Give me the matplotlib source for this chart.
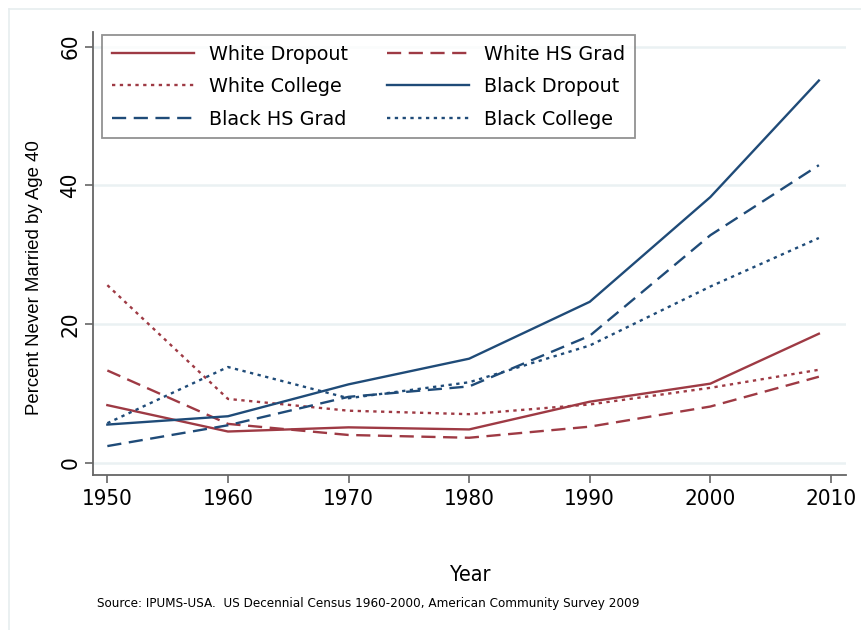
import matplotlib
matplotlib.use("Agg")
import matplotlib.pyplot as plt
from matplotlib import font_manager
from matplotlib.lines import Line2D

# Census years (2009 = American Community Survey)
years = [1950, 1960, 1970, 1980, 1990, 2000, 2009]

white_dropout = [8.3, 4.5, 5.1, 4.8, 8.8, 11.4, 18.6]
white_hs_grad = [13.3, 5.6, 4.0, 3.6, 5.2, 8.1, 12.4]
white_college = [25.6, 9.2, 7.5, 7.0, 8.4, 10.8, 13.4]
black_dropout = [5.5, 6.7, 11.3, 15.0, 23.2, 38.3, 55.1]
black_hs_grad = [2.4, 5.4, 9.5, 11.0, 18.3, 32.8, 42.9]
black_college = [5.7, 13.8, 9.3, 11.6, 16.9, 25.4, 32.4]

x_ticks = [1950, 1960, 1970, 1980, 1990, 2000, 2010]
y_ticks = [0, 20, 40, 60]

RED = "#9E3A44"
BLUE = "#1F4B78"

installed = {f.name for f in font_manager.fontManager.ttflist}
narrow = "Liberation Sans Narrow" if "Liberation Sans Narrow" in installed else "DejaVu Sans"
narrow_kw = {"family": narrow}
if narrow == "DejaVu Sans":
    narrow_kw["stretch"] = "condensed"

fig = plt.figure(figsize=(8.62, 6.30), dpi=100)
ax = fig.add_axes([93 / 862, 1 - 475 / 630, 753 / 862, 443 / 630])

dash = (0, (6, 3.2))
dot = (0, (1.4, 1.9))
series = [
    ("White Dropout", white_dropout, RED, "-"),
    ("White HS Grad", white_hs_grad, RED, dash),
    ("White College", white_college, RED, dot),
    ("Black Dropout", black_dropout, BLUE, "-"),
    ("Black HS Grad", black_hs_grad, BLUE, dash),
    ("Black College", black_college, BLUE, dot),
]
lines = {}
for name, vals, col, ls in series:
    (ln,) = ax.plot(years, vals, color=col, linestyle=ls, linewidth=1.7, zorder=3)
    lines[name] = ln

ax.set_xlim(1948.81, 2011.25)
ax.set_ylim(-1.77, 62.1)
ax.set_xticks(x_ticks)
ax.set_yticks(y_ticks)
ax.grid(axis="y", color="#EAF1F3", linewidth=1.8, zorder=0)
ax.set_axisbelow(True)

for side in ("top", "right"):
    ax.spines[side].set_visible(False)
for side in ("left", "bottom"):
    ax.spines[side].set_color("#666666")
    ax.spines[side].set_linewidth(1.3)

ax.tick_params(axis="both", colors="#666666", length=6, width=1.2, labelcolor="black")
ax.tick_params(axis="x", pad=4)
ax.tick_params(axis="y", pad=3)
for lab in ax.get_xticklabels():
    lab.set_fontsize(16)
    lab.set(**narrow_kw)
for lab in ax.get_yticklabels():
    lab.set_fontsize(16)
    lab.set_rotation(90)
    lab.set_va("center")
    lab.set(**narrow_kw)

ax.set_ylabel("Percent Never Married by Age 40", fontsize=13.4, family="Liberation Sans")
ax.yaxis.set_label_coords(-0.066, 0.445)
fig.text(470 / 862, 1 - 575 / 630, "Year", ha="center", va="center", fontsize=15.5, **narrow_kw)
fig.text(97 / 862, 1 - 603 / 630,
         "Source: IPUMS-USA.  US Decennial Census 1960-2000, American Community Survey 2009",
         ha="left", va="center", fontsize=9.6, **narrow_kw)

# two columns filled column-wise
col_order = ["White Dropout", "White College", "Black HS Grad",
             "White HS Grad", "Black Dropout", "Black College"]
leg = ax.legend([lines[n] for n in col_order], col_order, ncol=2,
                loc="upper left", bbox_to_anchor=(0.012, 0.993), borderaxespad=0,
                fontsize=13.8, handlelength=4.3, handletextpad=0.8,
                columnspacing=2.0, labelspacing=0.7, borderpad=0.5,
                fancybox=False, frameon=True)
leg.get_frame().set_edgecolor("#777777")
leg.get_frame().set_linewidth(1.3)
leg.set_zorder(5)

# light outer frame
fig.add_artist(Line2D([9 / 862, 9 / 862], [0, 1 - 9 / 630], transform=fig.transFigure,
                      color="#E6EDEF", linewidth=1.2))
fig.add_artist(Line2D([9 / 862, 1], [1 - 9 / 630, 1 - 9 / 630], transform=fig.transFigure,
                      color="#E6EDEF", linewidth=1.2))

fig.savefig("out.png", dpi=100)
